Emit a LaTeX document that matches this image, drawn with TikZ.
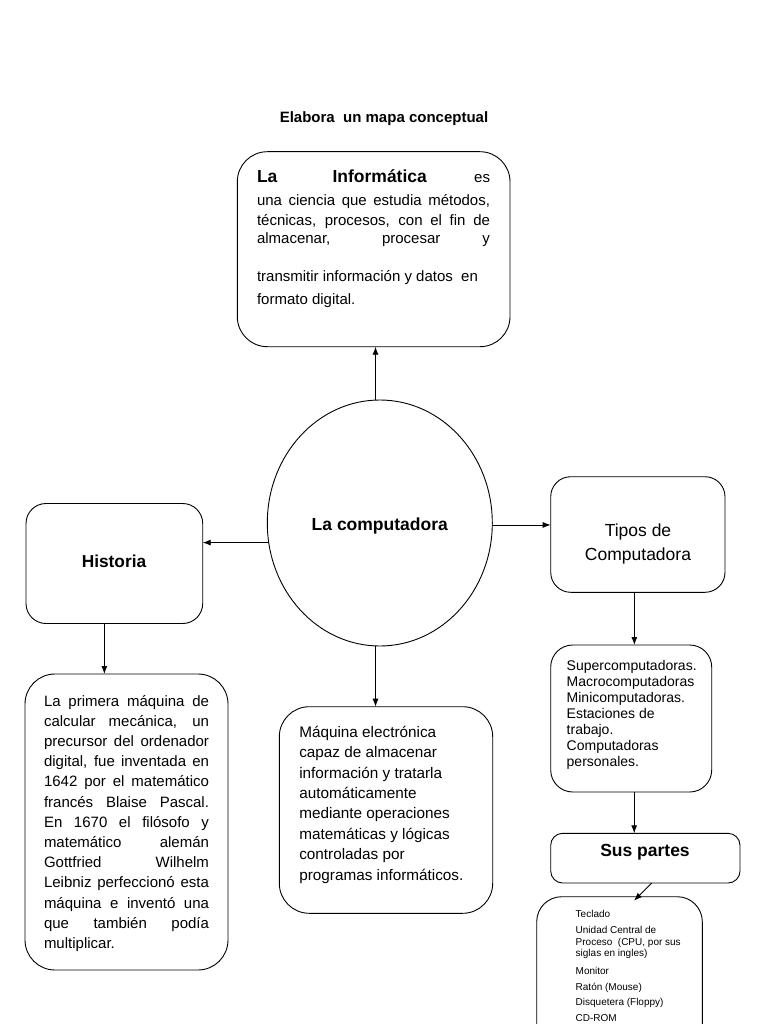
\documentclass[tikz,border=0pt]{standalone}
\usepackage{fontspec}
\setmainfont{Liberation Sans}
\usetikzlibrary{arrows.meta,shapes.geometric}
\begin{document}
\begin{tikzpicture}[x=1pt,y=-1pt,
  box/.style={draw, line width=0.9pt, rounded corners=#1, inner sep=0pt, outer sep=0pt, rectangle},
  arr/.style={line width=0.9pt, -{Latex[length=8pt,width=6pt]}},
  txt/.style={anchor=base west, inner sep=0pt, outer sep=0pt},
  ctxt/.style={anchor=base, inner sep=0pt, outer sep=0pt}]
\useasboundingbox (0,0) rectangle (768,1024);
\fill[white] (0,0) rectangle (768,1024);
\clip (0,0) rectangle (768,1024);

% title
\node[ctxt, font=\fontsize{15}{17}\selectfont\bfseries] (title) at (384,122.7) {Elabora\ \ un mapa conceptual};

% boxes
\node[box=30pt, minimum width=272.7pt, minimum height=195pt] (top) at (373.65,249.2) {};
\node[draw, line width=0.9pt, ellipse, minimum width=225pt, minimum height=246pt, inner sep=0pt, outer sep=0pt] (circ) at (379.8,523) {};
\node[box=20pt, minimum width=176.7pt, minimum height=120pt] (hist) at (114.35,563.5) {};
\node[box=30pt, minimum width=203pt, minimum height=296pt] (histtext) at (126.5,822) {};
\node[box=30pt, minimum width=213.4pt, minimum height=206.6pt] (cbox) at (386,810) {};
\node[box=20pt, minimum width=174.3pt, minimum height=115.6pt] (tipos) at (637.85,534.5) {};
\node[box=22pt, minimum width=161pt, minimum height=147pt] (super) at (631.2,718.5) {};
\node[box=12pt, minimum width=189.3pt, minimum height=49.7pt] (sus) at (645.35,858.15) {};
\node[box=25pt, minimum width=165.6pt, minimum height=162pt] (parts) at (619.5,977.7) {};

% texts
\node[txt] (toptext) at (257,183) {\parbox[t]{233pt}{\fontsize{15}{20}\selectfont
\makebox[233pt][s]{{\fontsize{17.5}{20}\selectfont\bfseries La Informática} es}\\[2.5pt]
\makebox[233pt][s]{una ciencia que estudia métodos,}\\
\makebox[233pt][s]{técnicas, procesos, con el fin de}\\[-1.8pt]
\makebox[233pt][s]{almacenar, procesar y}\\[18.3pt]
transmitir información y datos\ \ en\\[3pt]
formato digital.}};

\node[ctxt, font=\fontsize{17.5}{20}\selectfont\bfseries] (circtext) at (379.8,530.7) {La computadora};
\node[ctxt, font=\fontsize{17.3}{20}\selectfont\bfseries] (histlabel) at (114,567.5) {Historia};

\node[txt] (histbody) at (44,706) {\parbox[t]{165pt}{\fontsize{15}{20.2}\selectfont
\makebox[165pt][s]{La primera máquina de}\\
\makebox[165pt][s]{calcular mecánica, un}\\
\makebox[165pt][s]{precursor del ordenador}\\
\makebox[165pt][s]{digital, fue inventada en}\\
\makebox[165pt][s]{1642 por el matemático}\\
\makebox[165pt][s]{francés Blaise Pascal.}\\
\makebox[165pt][s]{En 1670 el filósofo y}\\
\makebox[165pt][s]{matemático alemán}\\
\makebox[165pt][s]{Gottfried Wilhelm}\\
\makebox[165pt][s]{Leibniz perfeccionó esta}\\
\makebox[165pt][s]{máquina e inventó una}\\
\makebox[165pt][s]{que también podía}\\
multiplicar.}};

\node[txt] (cboxtext) at (299.3,737.3) {\parbox[t]{185pt}{\raggedright\fontsize{15.3}{20.4}\selectfont
Máquina electrónica\\
capaz de almacenar\\
información y tratarla\\
automáticamente\\
mediante operaciones\\
matemáticas y lógicas\\
controladas por\\
programas informáticos.}};

\node[ctxt] (tipostext) at (638,536.7) {\parbox[t]{170pt}{\centering\fontsize{17.5}{24}\selectfont Tipos de\\Computadora}};

\node[txt] (supertext) at (566.7,670) {\parbox[t]{150pt}{\raggedright\fontsize{14}{16.1}\selectfont
Supercomputadoras.\\
Macrocomputadoras\\
Minicomputadoras.\\
Estaciones de\\
trabajo.\\
Computadoras\\
personales.}};

\node[ctxt, font=\fontsize{17.5}{20}\selectfont\bfseries] (sustext) at (645,856.7) {Sus partes};

\node[txt] (partstext) at (575.7,917.3) {\parbox[t]{125pt}{\raggedright\fontsize{10}{11.7}\selectfont
Teclado\\[4.3pt]
Unidad Central de\\
Proceso\ \ (CPU, por sus\\
siglas en ingles)\\[5.6pt]
Monitor\\[4.3pt]
Ratón (Mouse)\\[4pt]
Disquetera (Floppy)\\[4.3pt]
CD-ROM}};

% connectors
\draw[arr] (circ.92) -- (circ.92 |- top.south);
\draw[arr] (circ.190) -- (circ.190 -| hist.east);
\draw[arr] (circ.359) -- (circ.359 -| tipos.west);
\draw[arr] (circ.268) -- (circ.268 |- cbox.north);
\coordinate (h1) at ([xshift=-10pt]hist.south);
\draw[arr] (h1) -- (h1 |- histtext.north);
\coordinate (t1) at ([xshift=-3.5pt]tipos.south);
\draw[arr] (t1) -- (t1 |- super.north);
\coordinate (s1) at ([xshift=3pt]super.south);
\draw[arr] (s1) -- (s1 |- sus.north);
\coordinate (p1) at ([xshift=6.3pt]sus.south);
\coordinate (p2) at ([xshift=14.5pt,yshift=-4pt]parts.north);
\draw[arr] (p1) -- (p2);
\end{tikzpicture}
\end{document}
